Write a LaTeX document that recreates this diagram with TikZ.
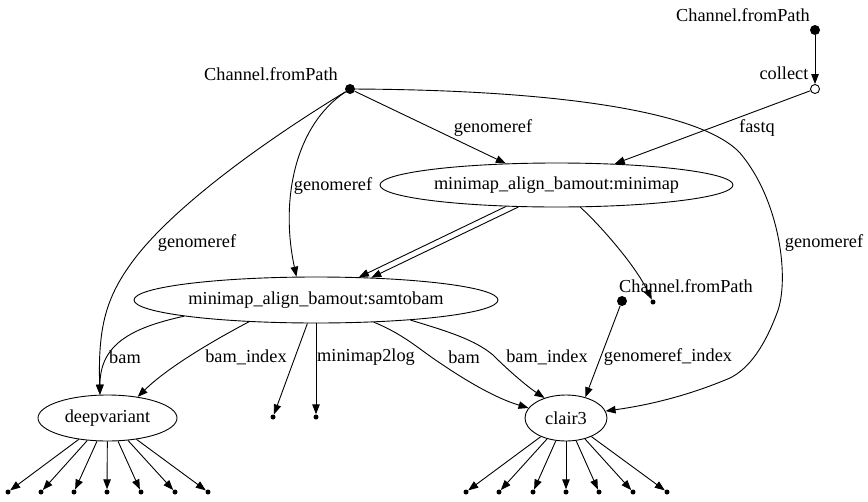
\documentclass[tikz,border=0pt]{standalone}
\usepackage{fontspec}
\setmainfont{Liberation Serif}
\usetikzlibrary{arrows.meta,shapes.geometric}
\begin{document}
\begin{tikzpicture}[x=1pt,y=-1pt,
  every node/.style={font=\fontsize{18.3}{22}\selectfont, inner sep=0pt},
  ell/.style={ellipse, draw, line width=0.9pt, inner sep=0pt},
  bigdot/.style={circle, fill=black, minimum size=10pt, inner sep=0pt},
  smalldot/.style={circle, fill=black, minimum size=5pt, inner sep=0pt},
  opendot/.style={circle, draw, fill=white, line width=0.9pt, minimum size=9pt, inner sep=0pt},
  arr/.style={line width=0.9pt, -{Triangle[length=10pt,width=7.5pt]}},
  lbl/.style={}]
\useasboundingbox (0,0) rectangle (868,501);
% main nodes
\node[ell, minimum width=353, minimum height=44] (mm) at (556.5,185) {minimap\_align\_bamout:minimap};
\node[ell, minimum width=364, minimum height=46] (stb) at (316,300) {minimap\_align\_bamout:samtobam};
\node[ell, minimum width=139, minimum height=46] (dv) at (107.5,418) {deepvariant};
\node[ell, minimum width=82, minimum height=46] (cl) at (566,418) {clair3};
% sources
\node[bigdot] (cfp1) at (350,89) {};
\node (cfp1l) at (271,74) {Channel.fromPath};
\node[bigdot] (cfp2) at (815,30) {};
\node (cfp2l) at (743,15) {Channel.fromPath};
\node[opendot] (col) at (815,89) {};
\node (coll) at (784,73) {collect};
\node[bigdot] (cfp3) at (622,301) {};
\node (cfp3l) at (686,286) {Channel.fromPath};
% sinks
\node[smalldot] (p3) at (653,302) {};
\node[smalldot] (p1) at (273,417) {};
\node[smalldot] (p2) at (316,417) {};
\foreach \i/\x in {1/8,2/41,3/74,4/107,5/141,6/175,7/208}
  \node[smalldot] (dvo\i) at (\x,492) {};
\foreach \i/\x in {1/466,2/499,3/533,4/566,5/599,6/633,7/667}
  \node[smalldot] (clo\i) at (\x,492) {};
% edges
\draw[arr] (cfp2) -- (col);
\draw[arr] (col) -- (mm.20);
\draw[arr] (cfp1) -- (mm.157);
\draw[arr] (cfp1) .. controls (295,125) and (280,200) .. (stb.130);
\draw[arr] (cfp1) .. controls (250,150) and (165,215) .. (130,265)
  .. controls (105,300) and (98,330) .. (dv.108);
\draw[arr] (cfp1) .. controls (550,90) and (700,110) .. (740,153)
  .. controls (780,200) and (790,280) .. (777,313)
  .. controls (765,345) and (750,368) .. (730,378)
  .. controls (690,395) and (650,405) .. (cl.10);
\draw[arr] (mm.203) -- (stb.28);
\draw[arr] (mm.210) -- (stb.22);
\draw[arr] (mm.-43) .. controls (600,225) and (635,265) .. (p3);
\draw[arr] (stb.187.5) .. controls (130,328) and (100,345) .. (dv.108);
\draw[arr] (stb.198) .. controls (205,345) and (165,370) .. (dv.35);
\draw[arr] (stb) -- (p1);
\draw[arr] (stb) -- (p2);
\draw[arr] (stb.-21) .. controls (405,335) and (420,350) .. (440,363)
  .. controls (465,380) and (495,398) .. (cl.165);
\draw[arr] (stb.-12) .. controls (450,332) and (475,340) .. (493,355)
  .. controls (510,372) and (528,387) .. (cl.137);
\draw[arr] (cfp3) -- (cl.47);
\foreach \i in {1,...,7} \draw[arr] (dv) -- (dvo\i);
\foreach \i in {1,...,7} \draw[arr] (cl) -- (clo\i);
% edge labels
\node (l1) at (757,128) {fastq};
\node (l2) at (493,128) {genomeref};
\node (l3) at (333,186) {genomeref};
\node (l4) at (197,243) {genomeref};
\node (l5) at (824,243) {genomeref};
\node (l6) at (125,357) {bam};
\node (l7) at (246,357) {bam\_index};
\node (l8) at (366,357) {minimap2log};
\node (l9) at (464,357) {bam};
\node (l10) at (547,357) {bam\_index};
\node (l11) at (668,357) {genomeref\_index};
\end{tikzpicture}
\end{document}
